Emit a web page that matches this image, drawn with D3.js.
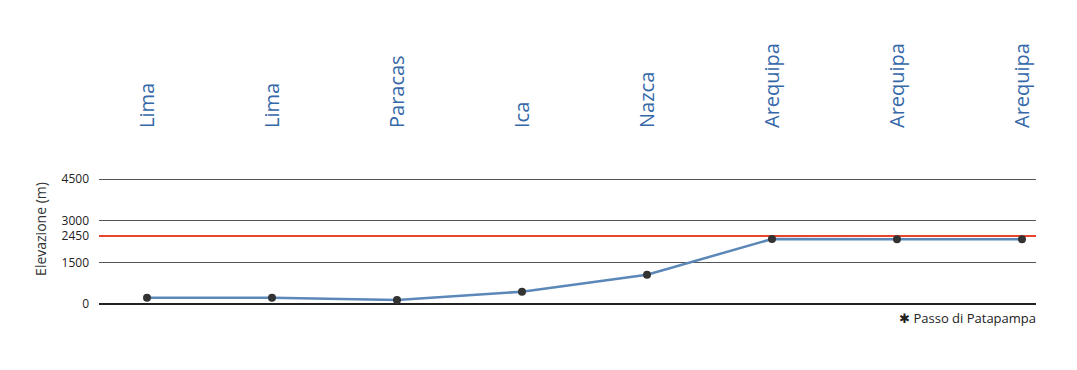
<!DOCTYPE html>
<html><head><meta charset="utf-8">
<script src="https://cdn.jsdelivr.net/npm/d3@7"></script>
<style>body{margin:0;background:#fff;} svg{display:block;}</style>
</head><body>
<svg id="c" width="1077" height="370"></svg>
<script>
const categories = ["Lima","Lima","Paracas","Ica","Nazca","Arequipa","Arequipa","Arequipa"];
const elevations = [227, 225, 144, 443, 1055, 2340, 2335, 2335];
const tickValues = [0, 1500, 2450, 3000, 4500];
const thresholdValue = 2450;
const legendLabel = "Passo di Patapampa";
const yTitle = "Elevazione (m)";

const svg = d3.select("#c");
const font = "'Open Sans', 'Noto Sans', sans-serif";
const x0 = 99, x1 = 1036;
const x = d3.scalePoint().domain(d3.range(categories.length)).range([147, 1022]);
const y = d3.scaleLinear().domain([0, 4500]).range([304, 179]);

svg.append("g").selectAll("line").data(tickValues.filter(v => v !== 0 && v !== thresholdValue)).join("line")
  .attr("x1", x0).attr("x2", x1).attr("y1", d => y(d)).attr("y2", d => y(d))
  .attr("stroke", "#555").attr("stroke-width", 1).attr("shape-rendering","crispEdges");

svg.append("line").attr("x1", x0).attr("x2", x1)
  .attr("y1", y(thresholdValue)).attr("y2", y(thresholdValue))
  .attr("stroke", "#e8452f").attr("stroke-width", 2);

svg.append("line").attr("x1", x0).attr("x2", x1).attr("y1", y(0)).attr("y2", y(0))
  .attr("stroke", "#222").attr("stroke-width", 2);

const yAxis = d3.axisLeft(y).tickValues(tickValues).tickFormat(d3.format("d")).tickSize(0).tickPadding(0);
const ga = svg.append("g").attr("transform", `translate(89,0)`).call(yAxis);
ga.select(".domain").remove();
ga.selectAll("text").attr("font-family", font).attr("font-size", 12).attr("fill", "#222");

svg.append("text").attr("transform", `translate(46,229) rotate(-90)`)
  .attr("text-anchor", "middle").attr("font-family", font).attr("font-size", 14).attr("fill", "#333")
  .text(yTitle);

const line = d3.line().x((d, i) => x(i)).y(d => y(d));
svg.append("path").datum(elevations).attr("d", line)
  .attr("fill", "none").attr("stroke", "#5b87b9").attr("stroke-width", 2.5);
svg.append("g").selectAll("circle").data(elevations).join("circle")
  .attr("cx", (d, i) => x(i)).attr("cy", d => y(d)).attr("r", 4).attr("fill", "#333");

svg.append("g").selectAll("text").data(categories).join("text")
  .attr("transform", (d, i) => `translate(${x(i) + 7},128) rotate(-90)`)
  .attr("text-anchor", "start").attr("font-family", font).attr("font-size", 20)
  .attr("fill", "#3568a8").text(d => d);

svg.append("text").attr("x", x1).attr("y", 323).attr("text-anchor", "end")
  .attr("font-family", font).attr("font-size", 13).attr("fill", "#222")
  .text("\u2731 " + legendLabel);
</script>
</body></html>
